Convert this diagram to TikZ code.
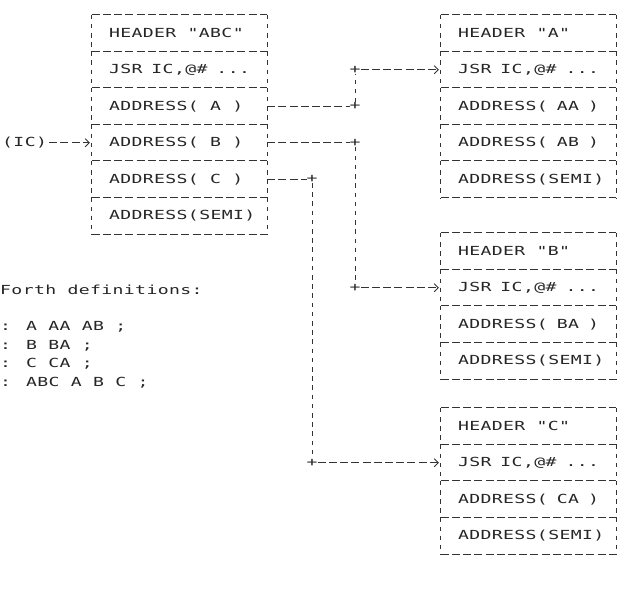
\documentclass[tikz,border=0pt]{standalone}
\usepackage{fontspec}
\newfontfamily\dotfont[FakeStretch=1.45,LetterSpace=3]{DejaVu Sans Mono}
\usetikzlibrary{calc,positioning,arrows.meta}

\tikzset{
   txt/.style={font=\dotfont\fontsize{12.5pt}{15pt}\selectfont, text=black!85, inner sep=0pt},
   cell/.style={txt, minimum width=175pt, minimum height=36.5pt, inner xsep=17pt,
      execute at begin node={\hbox to 141pt\bgroup},
      execute at end node={\hfil\egroup}},
   corner/.style={txt},
   hdash/.style={draw=black!80, line width=0.9pt, dash pattern=on 8pt off 3.2pt},
   vdash/.style={draw=black!80, line width=0.9pt, dash pattern=on 4.5pt off 4.7pt},
   link/.style={-{Straight Barb[length=4pt,width=8pt]}, shorten >=2pt}
}

\begin{document}
\begin{tikzpicture}[x=1pt,y=-1pt]
   \useasboundingbox (0,0) rectangle (635,610);

   % word ABC
   \coordinate (abc) at (179.5,33.25);
   \node[cell] (abcH)    at ($(abc)+0*(0,36.5)$) {HEADER "ABC"};
   \node[cell] (abcJsr)  at ($(abc)+1*(0,36.5)$) {JSR IC,@\# ...};
   \node[cell] (abcA)    at ($(abc)+2*(0,36.5)$) {ADDRESS( A )};
   \node[cell] (abcB)    at ($(abc)+3*(0,36.5)$) {ADDRESS( B )};
   \node[cell] (abcC)    at ($(abc)+4*(0,36.5)$) {ADDRESS( C )};
   \node[cell] (abcSemi) at ($(abc)+5*(0,36.5)$) {ADDRESS(SEMI)};

   % word A
   \coordinate (a) at (528.5,33.25);
   \node[cell] (aH)    at ($(a)+0*(0,36.5)$) {HEADER "A"};
   \node[cell] (aJsr)  at ($(a)+1*(0,36.5)$) {JSR IC,@\# ...};
   \node[cell] (aAA)   at ($(a)+2*(0,36.5)$) {ADDRESS( AA )};
   \node[cell] (aAB)   at ($(a)+3*(0,36.5)$) {ADDRESS( AB )};
   \node[cell] (aSemi) at ($(a)+4*(0,36.5)$) {ADDRESS(SEMI)};

   % word B
   \coordinate (b) at (528.5,251.25);
   \node[cell] (bH)    at ($(b)+0*(0,36.5)$) {HEADER "B"};
   \node[cell] (bJsr)  at ($(b)+1*(0,36.5)$) {JSR IC,@\# ...};
   \node[cell] (bBA)   at ($(b)+2*(0,36.5)$) {ADDRESS( BA )};
   \node[cell] (bSemi) at ($(b)+3*(0,36.5)$) {ADDRESS(SEMI)};

   % word C
   \coordinate (c) at (528.5,426.25);
   \node[cell] (cH)    at ($(c)+0*(0,36.5)$) {HEADER "C"};
   \node[cell] (cJsr)  at ($(c)+1*(0,36.5)$) {JSR IC,@\# ...};
   \node[cell] (cCA)   at ($(c)+2*(0,36.5)$) {ADDRESS( CA )};
   \node[cell] (cSemi) at ($(c)+3*(0,36.5)$) {ADDRESS(SEMI)};

   % frames
   \foreach \n in {abcH,abcJsr,abcA,abcB,abcC,abcSemi,aH,aJsr,aAA,aAB,aSemi,
                   bH,bJsr,bBA,bSemi,cH,cJsr,cCA,cSemi}{
      \draw[hdash] (\n.north west) -- (\n.north east);
      \draw[vdash] (\n.north west) -- (\n.south west);
      \draw[vdash] (\n.north east) -- (\n.south east);
   }
   \foreach \n in {abcSemi,aSemi,bSemi,cSemi}
      \draw[hdash] (\n.south west) -- (\n.south east);

   % links
   \node[corner] (kA1) at ($(abcA.east)+(88,0)$) {+};
   \node[corner] (kA2) at (kA1 |- aJsr) {+};
   \node[corner] (kB1) at (kA1 |- abcB) {+};
   \node[corner] (kB2) at (kA1 |- bJsr) {+};
   \node[corner] (kC1) at ($(abcC.east)+(45,0)$) {+};
   \node[corner] (kC2) at (kC1 |- cJsr) {+};

   \draw[hdash] (abcA.east) -- (kA1);
   \draw[vdash] (kA1) -- (kA2);
   \draw[hdash,link] (kA2) -- (aJsr.west);

   \draw[hdash] (abcB.east) -- (kB1);
   \draw[vdash] (kB1) -- (kB2);
   \draw[hdash,link] (kB2) -- (bJsr.west);

   \draw[hdash] (abcC.east) -- (kC1);
   \draw[vdash] (kC1) -- (kC2);
   \draw[hdash,link] (kC2) -- (cJsr.west);

   \node[txt,anchor=west] (ic) at (2,142.75) {(IC)};
   \draw[hdash,link,shorten <=2pt] (ic) -- (abcB.west);

   % Forth source
   \node[txt,anchor=west] (fdT) at (0,290) {Forth definitions:};
   \coordinate (fd) at (0,327);
   \node[txt,anchor=west] (fd1) at ($(fd)+0*(0,18.5)$) {: A AA AB ;};
   \node[txt,anchor=west] (fd2) at ($(fd)+1*(0,18.5)$) {: B BA ;};
   \node[txt,anchor=west] (fd3) at ($(fd)+2*(0,18.5)$) {: C CA ;};
   \node[txt,anchor=west] (fd4) at ($(fd)+3*(0,18.5)$) {: ABC A B C ;};
\end{tikzpicture}
\end{document}
